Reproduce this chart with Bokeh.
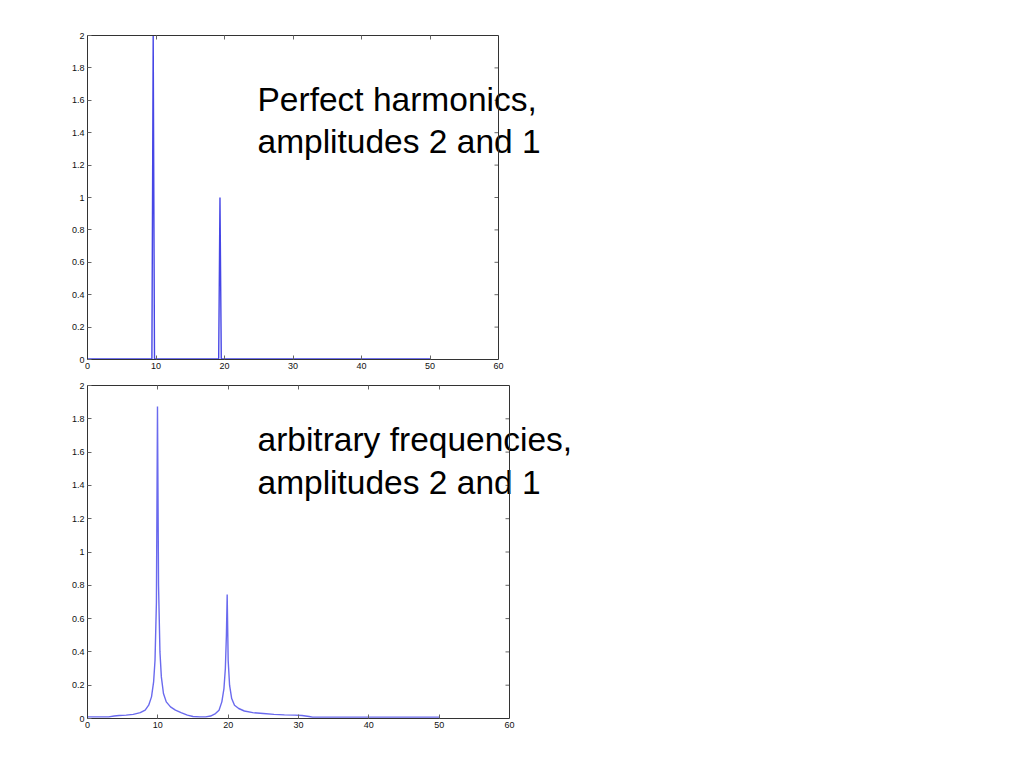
import math
from bokeh.plotting import figure
from bokeh.layouts import column
from bokeh.models import Range1d, LinearAxis, Label, FixedTicker, Span
from bokeh.embed import file_html
from bokeh.resources import INLINE

# ---- data ----
top_freq = [0, 9.40, 9.59, 9.78, 19.15, 19.34, 19.53, 50]
top_amp = [0.003, 0.003, 2.0, 0.003, 0.003, 1.0, 0.003, 0.003]

bot_freq = [0, 1, 2, 3, 3.8, 4.5, 5.5, 6.5, 7.5, 8.2, 8.7, 9.1, 9.4, 9.6, 9.8,
            9.95, 10.1, 10.3, 10.5, 10.8, 11.2, 11.8, 12.5, 13.3, 14.2, 15, 16,
            16.8, 17.5, 18.2, 18.7, 19.1, 19.4, 19.6, 19.75, 19.86, 20.0, 20.2,
            20.5, 20.9, 21.5, 22.3, 23.5, 25, 26.5, 28, 29.5, 30.5, 31.5, 32,
            35, 40, 45, 50]
bot_amp = [0.01, 0.01, 0.01, 0.01, 0.015, 0.018, 0.02, 0.025, 0.035, 0.05,
           0.08, 0.13, 0.22, 0.35, 0.7, 1.874, 0.8, 0.4, 0.25, 0.15, 0.1, 0.07,
           0.05, 0.035, 0.02, 0.012, 0.01, 0.01, 0.015, 0.03, 0.05, 0.1, 0.18,
           0.3, 0.5, 0.745, 0.35, 0.2, 0.12, 0.08, 0.06, 0.045, 0.035, 0.03,
           0.025, 0.022, 0.02, 0.018, 0.012, 0.008, 0.008, 0.008, 0.008, 0.008]

x_ticks = [0, 10, 20, 30, 40, 50, 60]
y_ticks = [0, 0.2, 0.4, 0.6, 0.8, 1, 1.2, 1.4, 1.6, 1.8, 2]

top_text = ["Perfect harmonics,", "amplitudes 2 and 1"]
bot_text = ["arbitrary frequencies,", "amplitudes 2 and 1"]

FONT = "Liberation Sans"
LEFT = 87
EXT_FRAME = 514   # drawing area wide enough for the overlaid text
RIGHT = 10
BOX = "#333333"
TICK = "#666666"


def make_fig(xs, ys, color, box_w, fh, top_b, bot_b, texts, tx, ty1, ty2):
    x_max = x_ticks[-1]
    x_end = x_max * EXT_FRAME / box_w
    p = figure(width=LEFT + EXT_FRAME + RIGHT, height=top_b + fh + bot_b,
               output_backend="svg", toolbar_location=None,
               x_range=Range1d(0, x_end), y_range=Range1d(0, 2),
               x_axis_type=None, y_axis_type=None)
    p.xgrid.visible = False
    p.ygrid.visible = False
    p.outline_line_color = None
    p.background_fill_color = "white"
    p.border_fill_color = "white"
    p.min_border = 0
    p.min_border_left = LEFT
    p.min_border_right = RIGHT
    p.min_border_top = top_b
    p.min_border_bottom = bot_b

    for loc, ticks, lab in (("below", x_ticks, True), ("above", x_ticks, False),
                            ("left", y_ticks, True)):
        ax = LinearAxis(ticker=FixedTicker(ticks=ticks))
        if loc in ("below", "above"):
            ax.bounds = (0, x_max)
        ax.major_tick_in = 4
        ax.major_tick_out = 0
        ax.minor_tick_line_color = None
        ax.major_tick_line_color = TICK
        ax.axis_line_color = BOX
        ax.major_label_text_font = FONT
        if lab:
            ax.major_label_text_font_size = "9px"
            ax.major_label_text_color = "#111111"
            ax.major_label_standoff = 3
        else:
            ax.major_label_text_font_size = "1px"
            ax.major_label_text_color = None
            ax.major_label_standoff = 0
        if loc == "left":
            ax.major_label_overrides = {1: "1", 2: "2"}
        p.add_layout(ax, loc)

    p.line(xs, ys, line_color=color, line_width=1.4)

    for t, yy in zip(texts, (ty1, ty2)):
        p.add_layout(Label(x=tx, y=yy, x_units="canvas", y_units="canvas",
                           text=t, text_font=FONT,
                           text_font_size="33.5px", text_color="black",
                           text_baseline="alphabetic", text_align="left"))

    # right edge of the axes box with inward ticks
    p.add_layout(Span(location=x_max, dimension="height", line_color=BOX,
                      line_width=1, level="overlay"))
    p.ray(x=[x_max] * len(y_ticks), y=y_ticks, length=4, length_units="screen",
          angle=math.pi, line_color=TICK, line_width=1)
    return p


# top figure canvas starts at page y=0, bottom figure at y=377
p1 = make_fig(top_freq, top_amp, "#4646e6", 411, 324, 35, 18,
              top_text, 257, 99, 141)
p2 = make_fig(bot_freq, bot_amp, "#6a6aee", 422, 333, 8, 30,
              bot_text, 257, 62, 105)

layout = column(p1, p2, spacing=0)
open("out.html", "w").write(file_html(layout, INLINE))
